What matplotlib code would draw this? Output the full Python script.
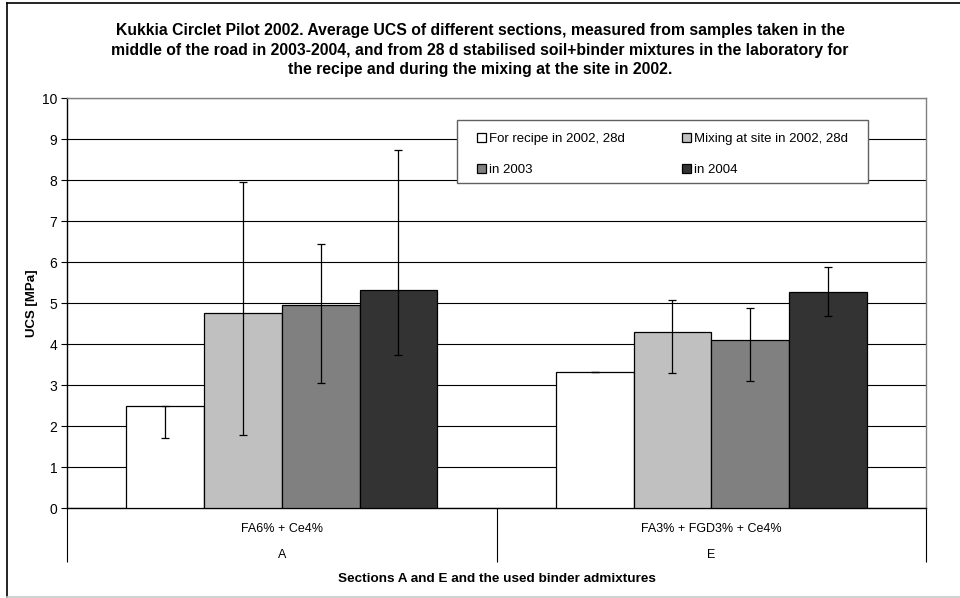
import matplotlib

matplotlib.use("Agg")

import matplotlib.pyplot as plt
import numpy as np
from matplotlib.lines import Line2D
from matplotlib.patches import Rectangle

plt.rcParams["font.family"] = ["Liberation Sans", "DejaVu Sans"]

# data
sections = ["A", "E"]
binders = ["FA6% + Ce4%", "FA3% + FGD3% + Ce4%"]
series_names = [
    "For recipe in 2002, 28d",
    "Mixing at site in 2002, 28d",
    "in 2003",
    "in 2004",
]
series_colors = ["#FFFFFF", "#C0C0C0", "#808080", "#333333"]

recipe_2002 = [2.50, 3.32]
site_2002 = [4.76, 4.29]
year_2003 = [4.95, 4.09]
year_2004 = [5.33, 5.28]

recipe_low = [1.70, 3.32]
recipe_high = [2.50, 3.32]
site_low = [1.77, 3.30]
site_high = [7.96, 5.08]
y2003_low = [3.05, 3.09]
y2003_high = [6.44, 4.89]
y2004_low = [3.73, 4.68]
y2004_high = [8.73, 5.88]

title = (
    "Kukkia Circlet Pilot 2002. Average UCS of different sections, measured from samples taken in the\n"
    "middle of the road in 2003-2004, and from 28 d stabilised soil+binder mixtures in the laboratory for\n"
    "the recipe and during the mixing at the site in 2002."
)


def main() -> int:
    values = [recipe_2002, site_2002, year_2003, year_2004]
    lows = [recipe_low, site_low, y2003_low, y2004_low]
    highs = [recipe_high, site_high, y2003_high, y2004_high]

    fig = plt.figure(figsize=(9.6, 5.98), dpi=100)
    ax = fig.add_axes([0.0698, 0.1505, 0.8948, 0.6855])

    x = np.arange(len(sections))
    width = 0.181
    bars = []
    for i, (vals, lo, hi, color, name) in enumerate(
        zip(values, lows, highs, series_colors, series_names)
    ):
        vals = np.array(vals)
        pos = x + (i - 1.5) * width
        b = ax.bar(pos, vals, width, color=color, edgecolor="black",
                   linewidth=0.9, label=name, zorder=3)
        bars.append(b)
        yerr = np.vstack([vals - np.array(lo), np.array(hi) - vals])
        ax.errorbar(pos, vals, yerr=yerr, fmt="none", ecolor="black",
                    elinewidth=0.9, capsize=2.8, capthick=0.9, zorder=4)

    ax.set_xlim(-0.5, 1.5)
    ax.set_ylim(0, 10)
    ax.set_yticks(np.arange(0, 11, 1))
    ax.yaxis.grid(True, color="black", linewidth=0.8, zorder=0)
    ax.set_axisbelow(True)
    ax.tick_params(axis="y", length=4, width=0.8, labelsize=10, pad=3)

    # category separators drawn as long outward x ticks
    ax.set_xticks([-0.5, 0.5, 1.5])
    ax.set_xticklabels([])
    ax.tick_params(axis="x", length=39, width=0.8, direction="out")

    for i in range(len(sections)):
        ax.annotate(binders[i], xy=(x[i], 0), xycoords=("data", "axes fraction"),
                    xytext=(0, -15), textcoords="offset points",
                    ha="center", va="center", fontsize=9)
        ax.annotate(sections[i], xy=(x[i], 0), xycoords=("data", "axes fraction"),
                    xytext=(0, -33.5), textcoords="offset points",
                    ha="center", va="center", fontsize=9)

    ax.set_xlabel("Sections A and E and the used binder admixtures",
                  fontsize=9.7, fontweight="bold", labelpad=4)
    ax.set_ylabel("UCS [MPa]", fontsize=9.5, fontweight="bold", labelpad=3)

    for side in ("left", "bottom"):
        ax.spines[side].set_color("black")
        ax.spines[side].set_linewidth(1.0)
    for side in ("top", "right"):
        ax.spines[side].set_color("#808080")
        ax.spines[side].set_linewidth(1.0)

    # legend frame drawn separately so the padding can match the reference
    ax.add_patch(Rectangle((0.454, 0.793), 0.478, 0.153, transform=ax.transAxes,
                           facecolor="white", edgecolor="#606060", linewidth=1.0,
                           zorder=5, clip_on=False))
    order = [0, 2, 1, 3]
    handles = [bars[k] for k in order]
    labels = [series_names[k] for k in order]
    leg = ax.legend(handles, labels, ncol=2, loc="upper left",
                    bbox_to_anchor=(0.4773, 0.916), borderaxespad=0,
                    fontsize=9.5, frameon=False, borderpad=0,
                    handlelength=0.68, handleheight=0.68, handletextpad=0.25,
                    labelspacing=1.45, columnspacing=4.3)
    leg.set_zorder(6)

    fig.text(0.5, 1 - 50 / 598, title, ha="center", va="center",
             fontsize=11.3, fontweight="bold", linespacing=1.38)

    # outer chart frame
    fig.add_artist(Line2D([7 / 960, 7 / 960], [1 / 598, 1 - 3 / 598],
                          color="black", linewidth=1.2))
    fig.add_artist(Line2D([7 / 960, 1.0], [1 - 3 / 598, 1 - 3 / 598],
                          color="black", linewidth=1.2))
    fig.add_artist(Line2D([7 / 960, 1.0], [1 / 598, 1 / 598],
                          color="#C8C8C8", linewidth=1.2))

    fig.patch.set_facecolor("white")
    fig.savefig("out.png", dpi=100)
    plt.close(fig)
    return 0


if __name__ == "__main__":
    raise SystemExit(main())
